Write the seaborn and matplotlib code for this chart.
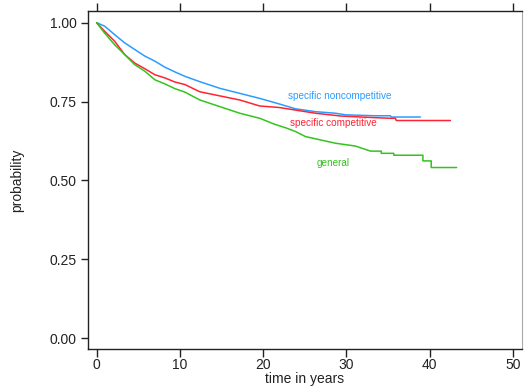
import numpy as np
import pandas as pd
import matplotlib
matplotlib.use("Agg")
import matplotlib.pyplot as plt
import seaborn as sns

# ---- data ----
series_names = ["specific noncompetitive", "specific competitive", "general"]

t_noncomp = [0, 0.96, 2.17, 3.37, 4.58, 5.8, 7.0, 8.2, 9.4, 10.6, 12.4, 14.8,
             17.2, 19.6, 22.0, 23.9, 26.3, 28.7, 29.9, 33.5, 35.3, 35.4, 38.9]
p_noncomp = [1.0, 0.989, 0.962, 0.936, 0.915, 0.894, 0.878, 0.859, 0.844, 0.830,
             0.813, 0.792, 0.776, 0.760, 0.742, 0.727, 0.718, 0.713, 0.708, 0.705,
             0.705, 0.701, 0.701]

t_comp = [0, 0.96, 2.17, 3.37, 4.58, 5.8, 7.0, 8.2, 9.4, 10.6, 12.4, 14.8, 17.2,
          19.6, 22.0, 23.9, 26.3, 29.4, 33.5, 35.3, 35.9, 36.0, 42.5]
p_comp = [1.0, 0.973, 0.941, 0.899, 0.872, 0.854, 0.835, 0.825, 0.812, 0.804,
          0.781, 0.768, 0.755, 0.736, 0.731, 0.723, 0.713, 0.704, 0.699, 0.697,
          0.697, 0.690, 0.690]

t_general = [0, 0.96, 2.17, 3.37, 4.58, 5.8, 7.0, 8.2, 9.4, 10.6, 12.4, 14.8, 17.2,
             19.6, 21.4, 22.7, 23.9, 25.1, 27.5, 28.7, 31.1, 32.9, 34.2, 34.2,
             35.7, 35.7, 39.2, 39.2, 40.2, 40.2, 43.25]
p_general = [1.0, 0.967, 0.930, 0.899, 0.867, 0.846, 0.819, 0.806, 0.791, 0.780,
             0.755, 0.734, 0.713, 0.697, 0.678, 0.667, 0.655, 0.639, 0.625, 0.618,
             0.609, 0.593, 0.593, 0.586, 0.586, 0.580, 0.580, 0.562, 0.562, 0.541,
             0.541]

label_x = [29.2, 28.5, 28.45]
label_y = [0.769, 0.681, 0.5545]

x_ticks = [0, 10, 20, 30, 40, 50]
y_ticks = [0.00, 0.25, 0.50, 0.75, 1.00]
y_ticklabels = ["0.00", "0.25", "0.50", "0.75", "1.00"]

colors = ["#2b9cff", "#ff2433", "#33c41e"]

# ---- build table ----
frames = []
for name, t, p in zip(series_names, [t_noncomp, t_comp, t_general],
                      [p_noncomp, p_comp, p_general]):
    frames.append(pd.DataFrame({"time": t, "prob": p, "series": name,
                                "order": np.arange(len(t))}))
df = pd.concat(frames, ignore_index=True)

sns.set_style("ticks")
plt.rcParams["font.family"] = ["Liberation Sans", "DejaVu Sans"]

fig = plt.figure(figsize=(5.31, 3.91), dpi=100)
ax = fig.add_axes([0.165, 0.1074, 0.818, 0.8645])

sns.lineplot(data=df, x="time", y="prob", hue="series", units="series",
             estimator=None, sort=False, palette=dict(zip(series_names, colors)),
             hue_order=series_names, linewidth=1.1, legend=False, ax=ax)

for name, c, lx, ly in zip(series_names, colors, label_x, label_y):
    ax.text(lx, ly, name, color=c, fontsize=7.2, ha="center", va="center")

ax.set_xlim(-1.08, 51.1)
ax.set_ylim(-0.034, 1.037)
ax.set_xticks(x_ticks)
ax.set_yticks(y_ticks)
ax.set_yticklabels(y_ticklabels)
ax.tick_params(axis="both", labelsize=10, width=1, color="#222222",
               labelcolor="#222222", direction="out")
ax.tick_params(axis="x", top=True, pad=0.5, length=5.8)
ax.tick_params(axis="y", length=5.0, pad=3)
ax.set_xlabel("time in years", fontsize=10, color="#222222", labelpad=0)
ax.set_ylabel("probability", fontsize=10, color="#222222", labelpad=18)

for s in ["left", "bottom", "top"]:
    ax.spines[s].set_color("#222222")
    ax.spines[s].set_linewidth(1.0)
ax.spines["right"].set_color("#aaaaaa")
ax.spines["right"].set_linewidth(0.8)

fig.savefig("out.png", dpi=100)
